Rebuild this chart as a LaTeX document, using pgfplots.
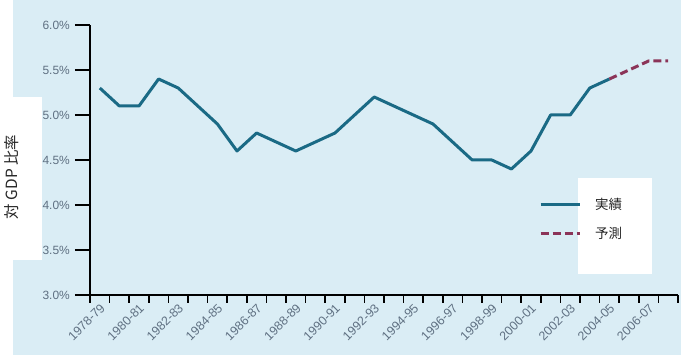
\documentclass[border=0pt]{standalone}
\usepackage{pgfplots}
\pgfplotsset{compat=1.18}
\usepackage{fontspec}
\setmainfont{Liberation Sans}
\newfontfamily\cjk{Noto Sans CJK JP}
\definecolor{bgblue}{RGB}{218,237,245}
\definecolor{teal1}{RGB}{26,106,133}
\definecolor{maroon1}{RGB}{139,52,88}
\definecolor{ticktxt}{RGB}{95,112,130}
\begin{document}
\begin{tikzpicture}
\fill[white] (-90bp,-60bp) rectangle (591bp,295bp);
\fill[bgblue] (-77bp,-60bp) rectangle (591bp,295bp);
\fill[white] (-90bp,35bp) rectangle (-48bp,198bp);
\fill[white] (488bp,21bp) rectangle (562bp,117bp);
\node[rotate=90, font=\cjk\fontsize{15.5}{17}\selectfont, text=black!85] at (-78bp,118bp) {対 GDP 比率};
\begin{axis}[
  scale only axis, width=588bp, height=270bp,
  at={(0,0)}, anchor=south west,
  xmin=-0.5, xmax=29.5, ymin=3, ymax=6,
  axis lines=left,
  axis line style={-, line width=1.6bp, black},
  tick align=outside,
  every tick/.style={black, line width=1.6bp},
  major tick length=8bp,
  xtick={-0.5,0.5,...,29.5},
  xticklabel=\empty,
  extra x ticks={0,2,...,28},
  extra x tick labels={1978-79,1980-81,1982-83,1984-85,1986-87,1988-89,1990-91,1992-93,1994-95,1996-97,1998-99,2000-01,2002-03,2004-05,2006-07},
  extra x tick style={major tick length=0bp, tick style={draw=none}},
  xticklabel style={font=\fontsize{12.5}{14}\selectfont, text=ticktxt, xshift=3bp, yshift=-11bp, rotate=45, anchor=east, inner sep=0pt},
  ytick=\empty,
  extra y ticks={3,3.5,4,4.5,5,5.5,6},
  extra y tick labels={3.0\%,3.5\%,4.0\%,4.5\%,5.0\%,5.5\%,6.0\%},
  extra y tick style={major tick length=15bp},
  yticklabel style={font=\fontsize{12}{14}\selectfont, text=ticktxt, inner sep=1pt, xshift=-4bp},
  clip=false,
  legend style={at={(0.7636,0.367)}, anchor=north west, draw=none, fill=none,
    font=\cjk\fontsize{13.5}{15}\selectfont, text=black!85, row sep=12bp, inner sep=0pt,
    /tikz/every odd column/.append style={column sep=12bp}},
  legend cell align=left,
  legend image code/.code={\draw[#1] (0bp,0bp) -- (39bp,0bp);},
]
\addplot[teal1, line width=3bp, line join=round] coordinates {
(0,5.3) (1,5.1) (2,5.1) (3,5.4) (4,5.3) (5,5.1) (6,4.9) (7,4.6) (8,4.8) (9,4.7)
(10,4.6) (11,4.7) (12,4.8) (13,5.0) (14,5.2) (15,5.1) (16,5.0) (17,4.9) (18,4.7)
(19,4.5) (20,4.5) (21,4.4) (22,4.6) (23,5.0) (24,5.0) (25,5.3) (26,5.4)};
\addlegendentry{実績}
\addplot[maroon1, line width=3bp, dash pattern=on 8bp off 4bp, line join=round] coordinates {
(26,5.4) (27,5.5) (28,5.6) (29,5.6)};
\addlegendentry{予測}
\end{axis}
\pgfresetboundingbox
\path (-90bp,-60bp) rectangle (591bp,295bp);
\end{tikzpicture}
\end{document}
